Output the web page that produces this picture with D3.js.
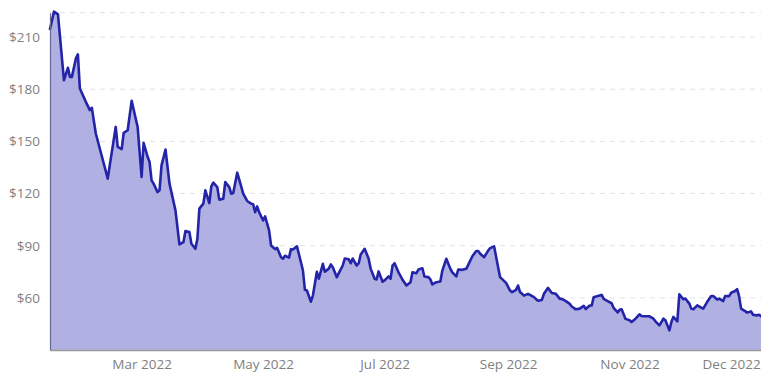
<!DOCTYPE html>
<html>
<head>
<meta charset="utf-8">
<script src="https://cdn.jsdelivr.net/npm/d3@7"></script>
<style>
  html, body { margin: 0; padding: 0; background: #ffffff; }
  svg { display: block; }
  text { font-family: "Open Sans", "Noto Sans", sans-serif; }
</style>
</head>
<body>
<svg id="chart" width="761" height="375"></svg>
<script>
// ---- data ----
const dates = [
  "2022-01-14","2022-01-16","2022-01-18","2022-01-20","2022-01-21","2022-01-23","2022-01-24","2022-01-25","2022-01-27","2022-01-28",
  "2022-01-29","2022-02-01","2022-02-03","2022-02-04","2022-02-06","2022-02-08","2022-02-12","2022-02-13","2022-02-16","2022-02-17",
  "2022-02-19","2022-02-20","2022-02-22","2022-02-24","2022-02-27","2022-03-01","2022-03-02","2022-03-04","2022-03-05","2022-03-06",
  "2022-03-07","2022-03-09","2022-03-10","2022-03-11","2022-03-13","2022-03-15","2022-03-18","2022-03-20","2022-03-22","2022-03-23",
  "2022-03-25","2022-03-26","2022-03-28","2022-03-29","2022-03-30","2022-04-01","2022-04-02","2022-04-04","2022-04-05","2022-04-06",
  "2022-04-08","2022-04-09","2022-04-11","2022-04-12","2022-04-14","2022-04-15","2022-04-16","2022-04-18","2022-04-20","2022-04-21",
  "2022-04-23","2022-04-25","2022-04-26","2022-04-27","2022-04-28","2022-04-29","2022-05-01","2022-05-02","2022-05-04","2022-05-05",
  "2022-05-07","2022-05-08","2022-05-10","2022-05-11","2022-05-12","2022-05-14","2022-05-15","2022-05-16","2022-05-18","2022-05-20",
  "2022-05-21","2022-05-22","2022-05-23","2022-05-25","2022-05-26","2022-05-28","2022-05-29","2022-05-31","2022-06-01","2022-06-03",
  "2022-06-04","2022-06-05","2022-06-07","2022-06-08","2022-06-10","2022-06-11","2022-06-13","2022-06-14","2022-06-15","2022-06-17",
  "2022-06-18","2022-06-19","2022-06-21","2022-06-23","2022-06-24","2022-06-26","2022-06-27","2022-06-28","2022-06-30","2022-07-01",
  "2022-07-03","2022-07-04","2022-07-05","2022-07-06","2022-07-08","2022-07-10","2022-07-12","2022-07-14","2022-07-15","2022-07-17",
  "2022-07-18","2022-07-20","2022-07-21","2022-07-23","2022-07-24","2022-07-25","2022-07-27","2022-07-29","2022-07-30","2022-08-01",
  "2022-08-03","2022-08-04","2022-08-06","2022-08-07","2022-08-09","2022-08-11","2022-08-12","2022-08-14","2022-08-16","2022-08-17",
  "2022-08-18","2022-08-20","2022-08-22","2022-08-23","2022-08-25","2022-08-27","2022-08-28","2022-08-31","2022-09-02","2022-09-03",
  "2022-09-05","2022-09-06","2022-09-07","2022-09-09","2022-09-11","2022-09-12","2022-09-14","2022-09-16","2022-09-18","2022-09-19",
  "2022-09-21","2022-09-23","2022-09-25","2022-09-27","2022-09-28","2022-09-30","2022-10-02","2022-10-03","2022-10-05","2022-10-07",
  "2022-10-09","2022-10-10","2022-10-12","2022-10-13","2022-10-14","2022-10-16","2022-10-18","2022-10-19","2022-10-21","2022-10-23",
  "2022-10-24","2022-10-26","2022-10-27","2022-10-28","2022-10-30","2022-11-01","2022-11-02","2022-11-04","2022-11-06","2022-11-07",
  "2022-11-09","2022-11-11","2022-11-13","2022-11-14","2022-11-16","2022-11-18","2022-11-19","2022-11-21","2022-11-22","2022-11-23",
  "2022-11-25","2022-11-26","2022-11-28","2022-11-29","2022-12-01","2022-12-02","2022-12-03","2022-12-05","2022-12-07","2022-12-08",
  "2022-12-10","2022-12-12","2022-12-13","2022-12-15","2022-12-16","2022-12-18","2022-12-19","2022-12-21","2022-12-22","2022-12-24",
  "2022-12-25","2022-12-26","2022-12-27","2022-12-29","2022-12-30","2023-01-01","2023-01-02","2023-01-04","2023-01-05","2023-01-06"
];
const prices = [
  214.6,224.6,223.0,197.7,185.2,192.3,187.1,187.1,197.7,200.0,
  180.4,172.7,168.0,169.3,154.5,145.9,128.6,136.2,158.3,146.8,
  145.5,154.9,156.4,173.3,158.3,129.5,149.1,141.1,138.1,127.6,
  125.7,120.8,121.8,136.2,145.3,125.7,110.3,90.7,92.0,98.4,
  97.8,91.1,88.2,94.0,111.3,114.2,121.8,114.5,124.1,126.3,
  123.7,116.5,117.0,126.6,123.7,119.9,120.3,132.0,124.1,119.9,
  115.7,114.2,113.8,109.3,112.6,109.3,104.5,106.8,98.8,90.1,
  88.0,88.8,83.4,82.5,84.2,83.1,88.0,87.8,89.6,80.5,
  75.7,64.6,64.2,57.8,61.3,75.0,71.0,79.6,75.0,76.8,
  79.2,77.6,71.9,74.2,78.6,82.6,82.2,79.9,82.6,78.6,
  79.9,84.9,88.2,82.5,76.8,71.0,70.6,75.2,69.3,70.0,
  72.3,71.0,78.6,79.9,74.7,70.4,67.1,69.0,74.7,74.2,
  76.3,77.0,72.3,71.9,70.6,67.7,69.0,69.4,75.7,82.5,
  76.8,74.7,72.3,76.3,76.1,76.7,79.0,83.8,86.9,86.9,
  85.4,83.4,87.2,88.6,89.6,77.6,71.9,68.6,64.2,63.3,
  64.6,67.1,63.3,61.3,62.3,61.7,60.4,58.3,58.8,62.3,
  65.7,62.8,62.3,59.4,59.4,58.1,56.5,55.0,53.4,53.8,
  55.4,53.6,55.6,55.6,60.4,61.0,61.7,59.4,58.1,56.9,
  54.2,51.6,53.1,53.4,47.9,47.1,46.1,48.0,50.5,49.6,
  49.4,49.4,48.0,46.5,44.2,48.0,47.1,41.3,46.1,49.0,
  46.5,62.1,59.2,59.6,56.7,53.8,53.4,55.7,54.4,53.8,
  57.7,61.1,61.1,59.0,59.6,58.1,61.0,61.0,62.9,63.9,
  65.0,61.0,53.8,52.4,51.5,52.2,50.3,49.9,50.3,49.4
];
const yTicks = [60, 90, 120, 150, 180, 210];
const yMin = 30, yMax = 224;
const xTickDates = ["2022-03-01","2022-05-01","2022-07-01","2022-09-01","2022-11-01","2022-12-22"];
const xTickLabels = ["Mar 2022","May 2022","Jul 2022","Sep 2022","Nov 2022","Dec 2022"];

// ---- chart ----
const parse = d3.utcParse("%Y-%m-%d");
const data = dates.map((d, i) => ({ date: parse(d), value: prices[i] }));

const W = 761, H = 375;
const m = { top: 12.7, right: 0, bottom: 25, left: 50 };
const svg = d3.select("#chart");

const x = d3.scaleUtc()
  .domain(d3.extent(data, d => d.date))
  .range([m.left, W - m.right]);
const y = d3.scaleLinear()
  .domain([yMin, yMax])
  .range([H - m.bottom, m.top]);

// gridlines
const grid = svg.append("g");
grid.selectAll("line")
  .data(yTicks.concat([yMax]))
  .join("line")
  .attr("x1", m.left).attr("x2", W - m.right)
  .attr("y1", d => y(d)).attr("y2", d => y(d))
  .attr("stroke", "#e3e3e3")
  .attr("stroke-width", 1)
  .attr("stroke-dasharray", "5,5");

// area + line
const area = d3.area()
  .x(d => x(d.date))
  .y0(y(yMin))
  .y1(d => y(d.value));
const line = d3.line()
  .x(d => x(d.date))
  .y(d => y(d.value));

svg.append("path").datum(data)
  .attr("d", area)
  .attr("fill", "#b0b0e2");

svg.append("path").datum(data)
  .attr("d", line)
  .attr("fill", "none")
  .attr("stroke", "#2424a8")
  .attr("stroke-width", 2.6)
  .attr("stroke-linejoin", "round")
  .attr("stroke-linecap", "round");

// y axis
const yAxis = svg.append("g")
  .attr("transform", `translate(${m.left},0)`)
  .call(d3.axisLeft(y).tickValues(yTicks).tickSize(0).tickPadding(10).tickFormat(d => "$" + d));
yAxis.select(".domain").attr("stroke", "#6a6a9a").attr("stroke-width", 1.2);
yAxis.selectAll("text").attr("fill", "#7f7f7f").attr("font-size", "13.5px");

// x axis
const xAxis = svg.append("g")
  .attr("transform", `translate(0,${H - m.bottom})`)
  .call(d3.axisBottom(x)
    .tickValues(xTickDates.map(parse))
    .tickSize(0).tickPadding(9)
    .tickFormat((d, i) => xTickLabels[i]));
xAxis.select(".domain").attr("stroke", "#9a9a9a").attr("stroke-width", 1.5);
xAxis.selectAll("text").attr("fill", "#7f7f7f").attr("font-size", "13.5px");
</script>
</body>
</html>
